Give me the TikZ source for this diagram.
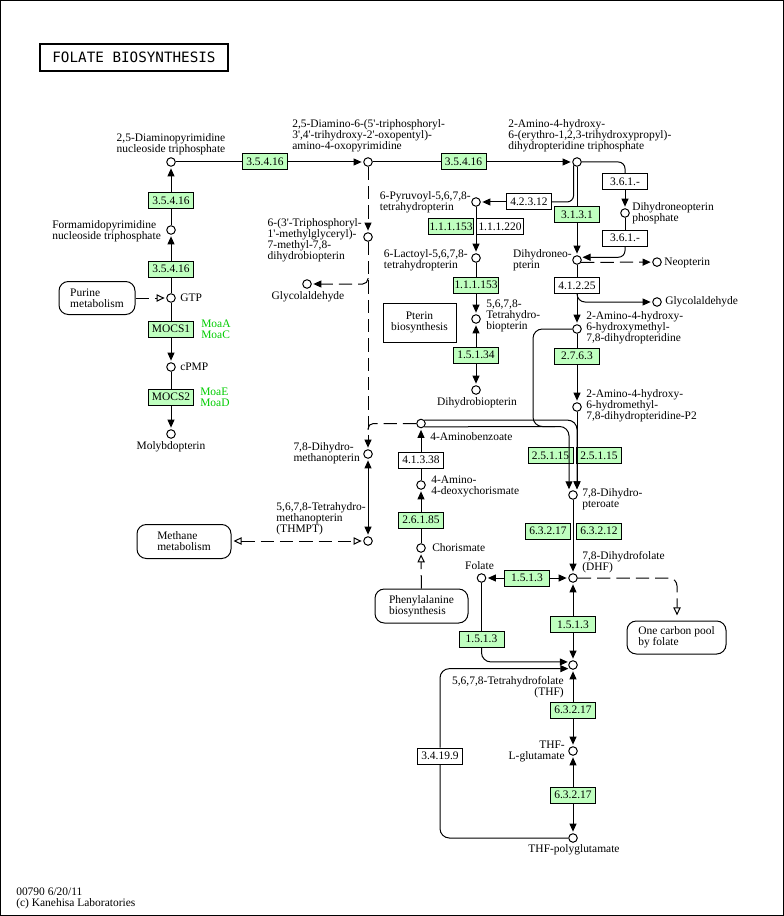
\documentclass[tikz,border=0pt]{standalone}
\usepackage{fontspec}
\setmainfont{Liberation Serif}
\newfontfamily\titlefont{DejaVu Sans Mono}
\usetikzlibrary{arrows.meta,calc}
\definecolor{enzgreen}{HTML}{BFFFBF}
\definecolor{orthgreen}{HTML}{00CC00}
\newcommand{\sq}{\textquotesingle}
\begin{document}
\begin{tikzpicture}[x=0.75pt,y=-0.75pt,
  every node/.style={inner sep=0pt, font=\fontsize{8.6}{8.25}\selectfont},
  ln/.style={line width=0.75pt},
  arr/.style={ln,-{Triangle[length=6pt,width=5.25pt]},shorten >=1.2pt},
  bi/.style={ln,{Triangle[length=6pt,width=5.25pt]}-{Triangle[length=6pt,width=5.25pt]},shorten >=1.2pt,shorten <=1.2pt},
  dsh/.style={ln,dash pattern=on 10pt off 4.5pt},
  darr/.style={dsh,-{Triangle[length=6pt,width=5.25pt]},shorten >=1.2pt},
  oarr/.style={dsh,-{Triangle[open,length=6pt,width=5.5pt]},shorten >=1.2pt},
  obi/.style={dsh,{Triangle[open,length=6pt,width=5.5pt]}-{Triangle[open,length=6pt,width=5.5pt]},shorten >=1.2pt,shorten <=1.5pt},
  cpd/.style={circle,draw,ln,fill=white,minimum size=6.4pt},
  enz/.style={draw,ln,fill=enzgreen,minimum width=33.75pt,minimum height=12pt},
  enzw/.style={enz,fill=white},
  mapr/.style={draw,ln,rounded corners=7pt,align=left},
  lab/.style={align=left,anchor=west}]
\useasboundingbox (0,0) rectangle (784,916);
\draw[ln] (0.5,0.5) rectangle (783.5,915.5);
\node[draw,line width=1.5pt,minimum width=141pt,minimum height=20.25pt,font=\titlefont\fontsize{10.7}{12}\selectfont] (title) at (134,57.5) {FOLATE BIOSYNTHESIS};

% left column
\node[cpd] (dapt) at (171,162) {};
\node[align=center] (dapt_l) at (171,144.5) {2,5-Diaminopyrimidine\\nucleoside triphosphate};
\node[enz] (e_l1) at (171,201) {3.5.4.16};
\node[cpd] (fapt) at (171,230) {};
\node[lab] (fapt_l) at (52,231) {Formamidopyrimidine\\nucleoside triphosphate};
\node[enz] (e_l2) at (171,269) {3.5.4.16};
\node[cpd] (gtp) at (171,298) {};
\node[anchor=west] (gtp_l) at (180,298) {GTP};
\node[mapr,minimum width=57pt,minimum height=24.75pt] (purine) at (97,298) {Purine\\metabolism};
\node[enz] (mocs1) at (171,329) {MOCS1};
\node[lab,text=orthgreen] (mocs1_o) at (201,329) {MoaA\\MoaC};
\node[cpd] (cpmp) at (171,367) {};
\node[anchor=west] (cpmp_l) at (180,367) {cPMP};
\node[enz] (mocs2) at (171,397) {MOCS2};
\node[lab,text=orthgreen] (mocs2_o) at (200,397) {MoaE\\MoaD};
\node[cpd] (mpt) at (171,434) {};
\node (mpt_l) at (171,447) {Molybdopterin};

% top row
\node[enz] (e_t1) at (265,162) {3.5.4.16};
\node[cpd] (dap) at (368,162) {};
\node[lab] (dap_l) at (292,136) {2,5-Diamino-6-(5\sq-triphosphoryl-\\3\sq,4\sq-trihydroxy-2\sq-oxopentyl)-\\amino-4-oxopyrimidine};
\node[enz] (e_t2) at (463.5,162) {3.5.4.16};
\node[cpd] (ahdp) at (577,162) {};
\node[lab] (ahdp_l) at (508,136) {2-Amino-4-hydroxy-\\6-(erythro-1,2,3-trihydroxypropyl)-\\dihydropteridine triphosphate};

% right upper
\node[enzw] (e_361a) at (625,182) {3.6.1.-};
\node[cpd] (dnp) at (625,213) {};
\node[lab] (dnp_l) at (632,213.5) {Dihydroneopterin\\phosphate};
\node[enzw] (e_361b) at (625,238) {3.6.1.-};
\node[enz] (e_3131) at (577,215) {3.1.3.1};
\node[cpd] (dhn) at (577,260) {};
\node[lab,anchor=east] (dhn_l) at (572,260.5) {Dihydroneo-\\pterin};
\node[cpd] (neo) at (657,262.1) {};
\node[anchor=west] (neo_l) at (664,263) {Neopterin};
\node[enzw] (e_41225) at (577,285.5) {4.1.2.25};
\coordinate (br1) at (577,294);
\node[cpd] (gly2) at (657,302) {};
\node[anchor=west] (gly2_l) at (665,302) {Glycolaldehyde};
\node[cpd] (hmdp) at (577,329) {};
\node[lab] (hmdp_l) at (586,328) {2-Amino-4-hydroxy-\\6-hydroxymethyl-\\7,8-dihydropteridine};
\node[enz] (e_2763) at (577,356) {2.7.6.3};
\node[cpd] (p2) at (577,407) {};
\node[lab] (p2_l) at (586,406) {2-Amino-4-hydroxy-\\6-hydromethyl-\\7,8-dihydropteridine-P2};

% pterin branch
\node[enzw] (e_4231) at (529,202) {4.2.3.12};
\node[cpd] (pyr) at (476,202) {};
\node[lab,anchor=east] (pyr_l) at (471,202) {6-Pyruvoyl-5,6,7,8-\\tetrahydropterin};
\node[enz] (e_111153a) at (451,226.5) {1.1.1.153};
\node[enzw,minimum width=35.25pt] (e_111220) at (500,226.5) {1.1.1.220};
\node[cpd] (lac) at (476,258) {};
\node[lab,anchor=east] (lac_l) at (468,260.5) {6-Lactoyl-5,6,7,8-\\tetrahydropterin};
\node[enz] (e_111153b) at (476,285) {1.1.1.153};
\node[cpd] (bh4) at (476,319) {};
\node[lab] (bh4_l) at (486,316) {5,6,7,8-\\Tetrahydro-\\biopterin};
\node[enz] (e_15134) at (476,355) {1.5.1.34};
\node[cpd] (bh2) at (476,390) {};
\node (bh2_l) at (477,403) {Dihydrobiopterin};
\node[draw,ln,align=center,minimum width=54.75pt,minimum height=29.25pt] (pterin) at (419.5,322.5) {Pterin\\biosynthesis};

% dashed column
\node[cpd] (tmdb) at (368,237) {};
\node[lab,anchor=east] (tmdb_l) at (362,240) {6-(3\sq-Triphosphoryl-\\1\sq-methylglyceryl)-\\7-methyl-7,8-\\dihydrobiopterin};
\coordinate (br2) at (368,278);
\node[cpd] (gly1) at (307,284) {};
\node (gly1_l) at (308,297) {Glycolaldehyde};
\coordinate (br3) at (368,433);
\node[cpd] (dhmpt) at (368,454) {};
\node[lab,anchor=east] (dhmpt_l) at (360,453.5) {7,8-Dihydro-\\methanopterin};
\node[cpd] (thmpt) at (368,541) {};
\node[lab,anchor=east] (thmpt_l) at (366,519) {5,6,7,8-Tetrahydro-\\methanopterin\\(THMPT)};
\node[mapr,minimum width=70.5pt,minimum height=25.5pt] (methane) at (184,541.5) {Methane\\metabolism};

% PABA
\node[cpd] (pab) at (421,423.5) {};
\node[anchor=west] (pab_l) at (430,437) {4-Aminobenzoate};
\node[enzw] (e_41338) at (421,460) {4.1.3.38};
\node[cpd] (adc) at (421,485) {};
\node[lab] (adc_l) at (431,486) {4-Amino-\\4-deoxychorismate};
\node[enz] (e_26185) at (421,520) {2.6.1.85};
\node[cpd] (chor) at (421,548) {};
\node[anchor=west] (chor_l) at (432,548) {Chorismate};
\node[mapr,minimum width=69.75pt,minimum height=25.5pt] (phe) at (421.5,606) {Phenylalanine\\biosynthesis};

% folate part
\coordinate (j1) at (533,426.5);
\coordinate (j2) at (569,426.5);
\coordinate (j3) at (555,426.5);
\node[enz] (e_25115a) at (550.5,455.5) {2.5.1.15};
\node[enz] (e_25115b) at (599,455.5) {2.5.1.15};
\node[cpd] (dhp) at (573,495) {};
\node[lab] (dhp_l) at (582,499) {7,8-Dihydro-\\pteroate};
\node[enz] (e_63217a) at (548,531) {6.3.2.17};
\node[enz] (e_63212) at (599,531) {6.3.2.12};
\node[cpd] (dhf) at (573,578) {};
\node[lab] (dhf_l) at (582,562.5) {7,8-Dihydrofolate\\(DHF)};
\node[enz] (e_1513a) at (527,578) {1.5.1.3};
\node[cpd] (fol) at (481.5,578) {};
\node (fol_l) at (479.5,566) {Folate};
\node[enz] (e_1513b) at (573,624.5) {1.5.1.3};
\node[mapr,minimum width=74.25pt,minimum height=24.75pt] (onec) at (676.5,637.5) {One carbon pool\\by folate};
\coordinate (oc_in) at (677,617);
\node[enz] (e_1513c) at (481.5,639) {1.5.1.3};
\node[cpd] (thf) at (573,665) {};
\node[align=right,anchor=east] (thf_l) at (564,687) {5,6,7,8-Tetrahydrofolate\\(THF)};
\node[enz] (e_63217b) at (573,710) {6.3.2.17};
\node[cpd] (thfg) at (573,751) {};
\node[align=right,anchor=east] (thfg_l) at (565,751.5) {THF-\\L-glutamate};
\node[enz] (e_63217c) at (573,795) {6.3.2.17};
\node[cpd] (thfpg) at (573,838) {};
\node (thfpg_l) at (574,850) {THF-polyglutamate};
\node[enzw] (e_34199) at (440,756) {3.4.19.9};

\node[lab] (foot) at (16,898) {00790 6/20/11\\(c) Kanehisa Laboratories};

% connectors left
\draw[ln] (gtp) -- (e_l2);
\draw[arr] (e_l2) -- (fapt);
\draw[ln] (fapt) -- (e_l1);
\draw[arr] (e_l1) -- (dapt);
\draw[oarr] (purine) -- (gtp);
\draw[ln] (gtp) -- (mocs1);
\draw[arr] (mocs1) -- (cpmp);
\draw[ln] (cpmp) -- (mocs2);
\draw[arr] (mocs2) -- (mpt);
% top
\draw[ln] (dapt) -- (e_t1);
\draw[arr] (e_t1) -- (dap);
\draw[ln] (dap) -- (e_t2);
\draw[arr] (e_t2) -- (ahdp);
\draw[ln,rounded corners=5pt] (ahdp.east) -| (e_361a.north);
\draw[arr] (e_361a) -- (dnp);
\draw[ln] (dnp) -- (e_361b);
\draw[arr,rounded corners=5pt] (e_361b.south) |- (dhn.35);
\draw[darr] (dhn.-30) -- (neo);
\draw[ln,rounded corners=5pt] (ahdp.-135) |- (e_4231.east);
\draw[arr] (e_4231) -- (pyr);
\draw[ln] (ahdp) -- (e_3131);
\draw[arr] (e_3131) -- (dhn);
\draw[arr] (pyr) -- (lac);
\draw[ln] (lac) -- (e_111153b);
\draw[arr] (e_111153b) -- (bh4);
\draw[arr] (e_15134) -- (bh4);
\draw[arr] (e_15134) -- (bh2);
\draw[ln] (dhn) -- (e_41225);
\draw[arr] (e_41225) -- (hmdp);
\draw[arr,rounded corners=6pt] (br1) |- (gly2);
\draw[ln] (hmdp) -- (e_2763);
\draw[arr] (e_2763) -- (p2);
% 2.5.1.15
\draw[arr] (p2) -- (p2 |- dhp.60);
\draw[arr,rounded corners=7pt] (hmdp.west) -| (j1) -- (j2) -- (j2 |- dhp.120);
\draw[ln] (pab.-45) -- (j3);
\draw[arr,rounded corners=7pt] (pab.45) -| (p2 |- dhp.60);
% dashed column
\draw[darr] (dap) -- (tmdb);
\draw[darr] (tmdb) -- (dhmpt);
\draw[darr,rounded corners=4pt] (br2) |- (gly1);
\draw[dsh,rounded corners=4pt] (pab.west) -| (br3);
\draw[bi] (dhmpt) -- (thmpt);
\draw[obi] (methane.east |- thmpt) -- (thmpt);
% PABA
\draw[ln] (chor) -- (e_26185);
\draw[arr] (e_26185) -- (adc);
\draw[ln] (adc) -- (e_41338);
\draw[arr] (e_41338) -- (pab);
\draw[oarr] (phe) -- (chor);
% folate
\draw[arr] (dhp) -- (dhf);
\draw[arr] (e_1513a) -- (fol);
\draw[arr] (e_1513a) -- (dhf);
\draw[arr] (e_1513b) -- (dhf);
\draw[arr] (e_1513b) -- (thf);
\draw[oarr,rounded corners=6pt] (dhf.east) -| (oc_in);
\draw[ln] (fol) -- (e_1513c);
\draw[arr,rounded corners=7pt] (e_1513c.south) |- (thf.140);
\draw[arr] (e_63217b) -- (thf);
\draw[arr] (e_63217b) -- (thfg);
\draw[arr] (e_63217c) -- (thfg);
\draw[arr] (e_63217c) -- (thfpg);
\draw[ln,rounded corners=7pt] (thfpg.west) -| (e_34199.south);
\draw[arr,rounded corners=7pt] (e_34199.north) |- (thf.-130);
\end{tikzpicture}
\end{document}
